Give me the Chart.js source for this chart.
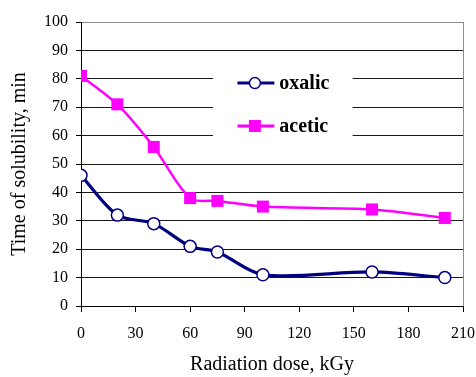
<!DOCTYPE html>
<html>
<head>
<meta charset="utf-8">
<script src="https://cdn.jsdelivr.net/npm/chart.js@4/dist/chart.umd.min.js"></script>
<style>
html,body{margin:0;padding:0;background:#fff;}
#wrap{width:476px;height:377px;}
</style>
</head>
<body>
<div id="wrap"><canvas id="c" width="476" height="377"></canvas></div>
<script>
const doses = [0, 20, 40, 60, 75, 100, 160, 200];
const oxalic = [46, 32, 29, 21, 19, 11, 12, 10];
const acetic = [81, 71, 56, 38, 37, 35, 34, 31];
const xTicks = [0, 30, 60, 90, 120, 150, 180, 210];
const yTicks = [0, 10, 20, 30, 40, 50, 60, 70, 80, 90, 100];
const seriesNames = ['oxalic', 'acetic'];

const NAVY = '#000080', MAG = '#FF00FF';
const FAM = 'Liberation Serif';
Chart.defaults.font.family = FAM;

const legendPlugin = {
  id: 'boxLegend',
  beforeDatasetsDraw(chart) {
    const ctx = chart.ctx, xs = chart.scales.x, ys = chart.scales.y;
    const x1 = xs.getPixelForValue(72.6), x2 = xs.getPixelForValue(149.3);
    ctx.save();
    ctx.fillStyle = '#fff';
    ctx.fillRect(x1, ys.getPixelForValue(83), x2 - x1, ys.getPixelForValue(57) - ys.getPixelForValue(83));
    ctx.restore();
  },
  afterDraw(chart) {
    const ctx = chart.ctx, xs = chart.scales.x, ys = chart.scales.y;
    const lx1 = xs.getPixelForValue(86), lx2 = xs.getPixelForValue(106.3);
    const items = [
      {name: seriesNames[0], y: ys.getPixelForValue(78.5), color: NAVY, lw: 3, style: 'circle'},
      {name: seriesNames[1], y: ys.getPixelForValue(63.4), color: MAG, lw: 3, style: 'rect'}
    ];
    ctx.save();
    items.forEach(it => {
      ctx.strokeStyle = it.color; ctx.lineWidth = it.lw;
      ctx.beginPath(); ctx.moveTo(lx1, it.y); ctx.lineTo(lx2, it.y); ctx.stroke();
      const cx = (lx1 + lx2) / 2 - 1;
      if (it.style === 'circle') {
        ctx.beginPath(); ctx.arc(cx, it.y, 5.5, 0, Math.PI * 2);
        ctx.fillStyle = '#fff'; ctx.fill();
        ctx.lineWidth = 1.5; ctx.stroke();
      } else {
        ctx.fillStyle = it.color; ctx.fillRect(cx - 6, it.y - 6, 12, 12);
      }
      ctx.fillStyle = '#000';
      ctx.font = 'bold 20px "Liberation Serif"';
      ctx.textBaseline = 'middle';
      ctx.textAlign = 'left';
      ctx.fillText(it.name, lx2 + 5, it.y + 1);
    });
    ctx.restore();
  }
};

new Chart(document.getElementById('c'), {
  type: 'line',
  data: {
    datasets: [
      {
        label: seriesNames[0],
        data: doses.map((d, i) => ({x: d, y: oxalic[i]})),
        borderColor: NAVY, borderWidth: 3.2,
        pointStyle: 'circle', pointRadius: 6, pointBorderWidth: 1.5,
        pointBackgroundColor: '#fff', pointBorderColor: NAVY,
        tension: 0.3
      },
      {
        label: seriesNames[1],
        data: doses.map((d, i) => ({x: d, y: acetic[i]})),
        borderColor: MAG, borderWidth: 2.5,
        pointStyle: 'rect', pointRadius: 8.5, pointBorderWidth: 0,
        pointBackgroundColor: MAG, pointBorderColor: MAG,
        tension: 0.3
      }
    ]
  },
  options: {
    responsive: false,
    animation: false,
    layout: {padding: {top: 22, right: 13, left: 0, bottom: 0}},
    plugins: {legend: {display: false}, tooltip: {enabled: false}},
    scales: {
      x: {
        type: 'linear', min: 0, max: 210,
        afterBuildTicks: s => { s.ticks = xTicks.map(v => ({value: v})); },
        afterFit: s => { s.height = 71; s.paddingLeft = 0; s.paddingRight = 0; },
        border: {display: true, color: '#000', width: 1},
        grid: {
          drawOnChartArea: true,
          color: c => (c.tick && c.tick.value === 210) ? '#8c8c8c' : 'rgba(0,0,0,0)',
          tickColor: '#000', tickLength: 6, lineWidth: 1
        },
        ticks: {color: '#000', font: {family: FAM, size: 16, weight: 'normal'}, padding: 12, maxRotation: 0},
        title: {display: true, text: 'Radiation dose, kGy', color: '#000',
          font: {family: FAM, size: 20, weight: 'normal'}, padding: {top: 8, bottom: 0}}
      },
      y: {
        type: 'linear', min: 0, max: 100,
        afterBuildTicks: s => { s.ticks = yTicks.map(v => ({value: v})); },
        afterFit: s => { s.width = 81; s.paddingTop = 0; s.paddingBottom = 0; },
        border: {display: true, color: '#000', width: 1},
        grid: {
          color: c => (c.tick && c.tick.value === 100) ? '#8c8c8c' : '#1a1a1a',
          tickColor: '#000', tickLength: 5, lineWidth: 1
        },
        ticks: {color: '#000', font: {family: FAM, size: 16, weight: 'normal'}, padding: 8},
        title: {display: true, text: 'Time of solubility, min', color: '#000',
          font: {family: FAM, size: 20, weight: 'normal'}, padding: {top: 8, bottom: 0}}
      }
    }
  },
  plugins: [legendPlugin]
});
</script>
</body>
</html>
